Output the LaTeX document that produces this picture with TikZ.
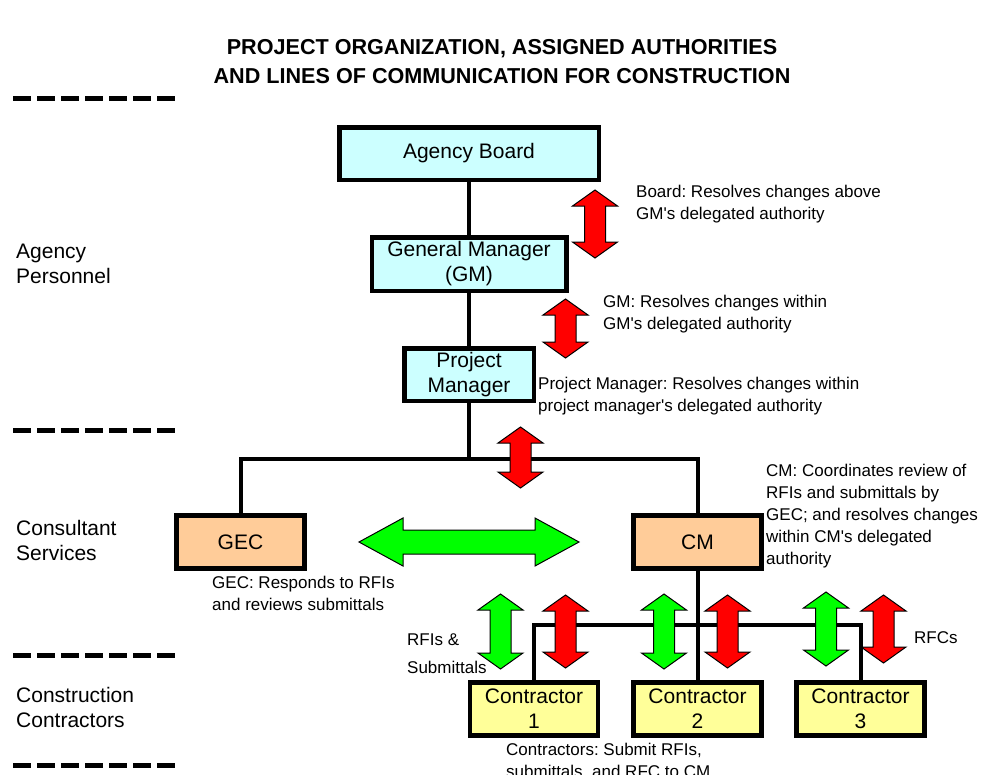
\documentclass[tikz,border=0pt]{standalone}
\usepackage{fontspec}
\setmainfont{Liberation Sans}
\frenchspacing
\newcommand\aps{\textquotesingle}
\definecolor{boxcyan}{HTML}{CCFFFF}
\definecolor{boxpeach}{HTML}{FFCC99}
\definecolor{boxyellow}{HTML}{FFFF99}
\definecolor{arrred}{HTML}{FF0000}
\definecolor{arrgreen}{HTML}{00FF00}
\newcommand\VDArrow[4]{% x, ytop, ybot, colour
  \path[dblarrow, fill=#4] (#1,#2) -- ({#1+22.5},{#2+16}) -- ({#1+10.5},{#2+16})
    -- ({#1+10.5},{#3-16}) -- ({#1+22.5},{#3-16}) -- (#1,#3)
    -- ({#1-22.5},{#3-16}) -- ({#1-10.5},{#3-16}) -- ({#1-10.5},{#2+16})
    -- ({#1-22.5},{#2+16}) -- cycle;}
\tikzset{
  orgbox/.style={draw, line width=4.5pt, inner sep=0pt, align=center,
    font=\fontsize{21}{25}\selectfont},
  cyanbox/.style={orgbox, fill=boxcyan},
  peachbox/.style={orgbox, fill=boxpeach, minimum width=128pt, minimum height=53pt},
  yellowbox/.style={orgbox, fill=boxyellow, minimum width=128pt, minimum height=53pt},
  link/.style={line width=4pt, line join=miter},
  note/.style={anchor=west, align=left, inner sep=0pt, font=\fontsize{17}{22}\selectfont},
  tier/.style={anchor=west, align=left, inner sep=0pt, font=\fontsize{21}{24.5}\selectfont},
  sep/.style={line width=5pt, dash pattern=on 18pt off 6pt},
  dblarrow/.style={draw=black, line width=1pt, line join=miter},
}
\begin{document}
\begin{tikzpicture}[x=1pt, y=-1pt]
\useasboundingbox (0,0) rectangle (996,774);

% title
\node[align=center, inner sep=0pt, font=\bfseries\fontsize{21.6}{29}\selectfont] (title) at (502,62)
  {PROJECT ORGANIZATION, ASSIGNED AUTHORITIES\\AND LINES OF COMMUNICATION FOR CONSTRUCTION};

% separators
\coordinate (s1a) at (13,98);  \coordinate (s1b) at (177,98);
\coordinate (s2a) at (13,430); \coordinate (s2b) at (177,430);
\coordinate (s3a) at (13,655); \coordinate (s3b) at (177,655);
\coordinate (s4a) at (13,765); \coordinate (s4b) at (177,765);
\draw[sep] (s1a) -- (s1b);
\draw[sep] (s2a) -- (s2b);
\draw[sep] (s3a) -- (s3b);
\draw[sep] (s4a) -- (s4b);

% tier labels
\node[tier] (t1) at (16,264) {Agency\\Personnel};
\node[tier] (t2) at (16,540.5) {Consultant\\Services};
\node[tier] (t3) at (16,707.5) {Construction\\Contractors};

% boxes
\node[cyanbox, minimum width=259.5pt, minimum height=52.5pt] (board) at (469,153.5) {Agency Board};
\node[cyanbox, minimum width=194.5pt, minimum height=53.5pt] (gm) at (469,264) {General Manager\\(GM)};
\node[cyanbox, minimum width=129.5pt, minimum height=52.5pt] (pm) at (469,374.5) {Project\\Manager};
\node[peachbox] (gec) at (240.5,542) {GEC};
\node[peachbox] (cm) at (697.5,542) {CM};
\node[yellowbox] (c1) at (534,709) {Contractor\\1};
\node[yellowbox] (c2) at (697.5,709) {Contractor\\2};
\node[yellowbox] (c3) at (860.5,709) {Contractor\\3};

% connectors
\coordinate (bus1) at (469,459);
\coordinate (bus2) at (697.5,625);
\draw[link] (board) -- (gm);
\draw[link] (gm) -- (pm);
\draw[link] (pm) -- (bus1);
\draw[link] (gec.north) |- (bus1) -| (cm.north);
\draw[link] (cm) -- (c2);
\draw[link] (c1.north) |- (bus2) -| (c3.north);

% authority arrows
\VDArrow{595}{190}{258}{arrred}
\VDArrow{565.5}{299}{358}{arrred}
\VDArrow{520.5}{427}{488}{arrred}
% bottom arrows
\VDArrow{500.5}{594}{669}{arrgreen}
\VDArrow{565.5}{595}{668}{arrred}
\VDArrow{664}{594}{669}{arrgreen}
\VDArrow{727.5}{595}{668}{arrred}
\VDArrow{826}{592}{666}{arrgreen}
\VDArrow{883.5}{595}{663}{arrred}
% horizontal green arrow
\path[dblarrow, fill=arrgreen] (359,542) -- (403,518) -- (403,530) -- (535,530) -- (535,518)
  -- (579,542) -- (535,566) -- (535,554) -- (403,554) -- (403,566) -- cycle;

% notes
\node[note] (nboard) at (636,204.5) {Board: Resolves changes above\\GM\aps s delegated authority};
\node[note] (ngm) at (603,314.5) {GM: Resolves changes within\\GM\aps s delegated authority};
\node[note] (npm) at (538,396.5) {Project Manager: Resolves changes within\\project manager\aps s delegated authority};
\node[note] (ncm) at (766,516) {CM: Coordinates review of\\RFIs and submittals by\\GEC; and resolves changes\\within CM\aps s delegated\\authority};
\node[note] (ngec) at (212,593) {GEC: Responds to RFIs\\and reviews submittals};
\node[note, font=\fontsize{17}{28}\selectfont] (nrfi) at (407,654) {RFIs \&\\Submittals};
\node[note] (nrfc) at (914,638) {RFCs};
\node[note] (ncon) at (506,761) {Contractors: Submit RFIs,\\submittals, and RFC to CM};
\end{tikzpicture}
\end{document}
